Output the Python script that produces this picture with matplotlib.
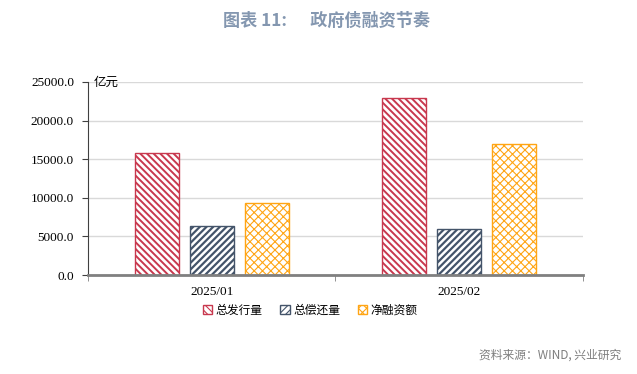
import matplotlib.pyplot as plt
import numpy as np
from matplotlib.ticker import FormatStrFormatter

categories = ['2025/01', '2025/02']
series = ['总发行量', '总偿还量', '净融资额']
issue = [15800, 22900]
repay = [6400, 5900]
net = [9300, 17000]

colors = ['#C8384E', '#44546A', '#FFA514']
hatches = ['\\' * 5, '/' * 5, 'x' * 4]
hatch_lw = [1.4, 1.6, 0.8]

fig = plt.figure(figsize=(6.37, 3.74), dpi=100)
ax = fig.add_axes([0.138, 0.2647, 0.777, 0.5163])

x = np.arange(len(categories))
w = 0.178
step = 0.222
for i, (vals, c, h) in enumerate(zip([issue, repay, net], colors, hatches)):
    plt.rcParams['hatch.linewidth'] = hatch_lw[i]
    bars = ax.bar(x + (i - 1) * step, vals, w, facecolor='white', edgecolor=c,
                  hatch=h, linewidth=1.0, label=series[i])
    for b in bars:
        if hasattr(b, 'set_hatch_linewidth'):
            b.set_hatch_linewidth(hatch_lw[i])

ax.set_xlim(-0.5, 1.5)
ax.set_ylim(0, 25000)
ax.set_yticks(np.arange(0, 25001, 5000))
ax.yaxis.set_major_formatter(FormatStrFormatter('%.1f'))
ax.set_xticks(x)
ax.set_xticklabels(categories)
ax.set_xticks([-0.5, 0.5, 1.5], minor=True)
ax.tick_params(axis='x', which='major', length=0, pad=8)
ax.tick_params(axis='x', which='minor', length=4, color='#808080')
ax.tick_params(axis='y', length=4, color='#404040', pad=6)
for lab in ax.get_xticklabels() + ax.get_yticklabels():
    lab.set_family('Liberation Serif')
    lab.set_fontsize(9.5)

ax.grid(axis='y', color='#D9D9D9', linewidth=1)
ax.set_axisbelow(True)
for s in ['top', 'right']:
    ax.spines[s].set_visible(False)
ax.spines['left'].set_color('#404040')
ax.spines['bottom'].set_color('#808080')
ax.spines['bottom'].set_linewidth(2)

ax.text(0.012, 1.0, '亿元', transform=ax.transAxes, fontsize=9,
        family='Noto Sans CJK SC', va='center', ha='left')

leg = fig.legend(loc='center', bbox_to_anchor=(0.487, 0.17), ncol=3, frameon=False,
                 prop={'family': 'Noto Sans CJK SC', 'size': 8.5},
                 handlelength=0.8, handleheight=0.8, columnspacing=1.5, handletextpad=0.3)

fig.text(0.512, 0.945, '图表 11:      政府债融资节奏', ha='center', va='center',
         fontsize=12.3, fontweight='bold', color='#8497B0', family='Noto Sans CJK SC')
fig.text(0.975, 0.05, '资料来源：WIND, 兴业研究', ha='right', va='center',
         fontsize=8.5, color='#7F7F7F', family='Noto Sans CJK SC')

fig.savefig('out.png', dpi=100)
